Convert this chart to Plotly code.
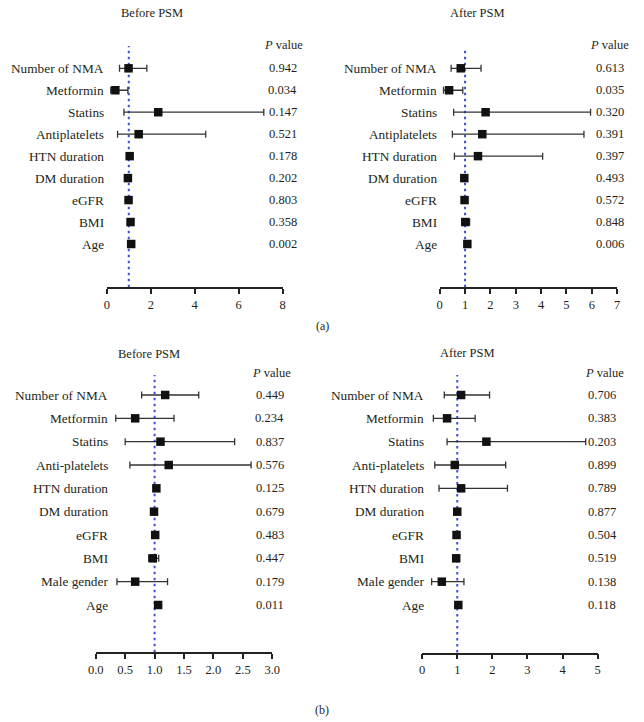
import plotly.graph_objects as go

# ---------------- data ----------------
labels_a = ["Number of NMA", "Metformin", "Statins", "Antiplatelets", "HTN duration",
            "DM duration", "eGFR", "BMI", "Age"]
labels_b = ["Number of NMA", "Metformin", "Statins", "Anti-platelets", "HTN duration",
            "DM duration", "eGFR", "BMI", "Male gender", "Age"]

a_before_or = [0.99, 0.39, 2.34, 1.45, 1.04, 0.96, 0.99, 1.08, 1.11]
a_before_lo = [0.58, 0.18, 0.78, 0.49, 0.98, 0.93, 0.95, 1.00, 1.05]
a_before_hi = [1.82, 0.96, 7.14, 4.50, 1.10, 1.00, 1.04, 1.17, 1.18]
a_before_p = ["0.942", "0.034", "0.147", "0.521", "0.178", "0.202", "0.803", "0.358", "0.002"]

a_after_or = [0.83, 0.37, 1.81, 1.68, 1.51, 0.97, 0.98, 1.01, 1.09]
a_after_lo = [0.45, 0.15, 0.55, 0.50, 0.58, 0.94, 0.93, 0.88, 1.03]
a_after_hi = [1.63, 0.91, 5.95, 5.69, 4.06, 1.02, 1.04, 1.18, 1.15]
a_after_p = ["0.613", "0.035", "0.320", "0.391", "0.397", "0.493", "0.572", "0.848", "0.006"]

b_before_or = [1.18, 0.67, 1.10, 1.24, 1.03, 0.99, 1.01, 0.97, 0.67, 1.06]
b_before_lo = [0.78, 0.34, 0.50, 0.58, 0.99, 0.97, 0.98, 0.90, 0.36, 1.02]
b_before_hi = [1.75, 1.33, 2.36, 2.64, 1.07, 1.02, 1.04, 1.07, 1.22, 1.10]
b_before_p = ["0.449", "0.234", "0.837", "0.576", "0.125", "0.679", "0.483", "0.447", "0.179", "0.011"]

b_after_or = [1.11, 0.71, 1.83, 0.93, 1.11, 1.00, 0.98, 0.97, 0.56, 1.03]
b_after_lo = [0.63, 0.32, 0.71, 0.36, 0.48, 0.96, 0.94, 0.90, 0.27, 0.98]
b_after_hi = [1.92, 1.51, 4.66, 2.38, 2.43, 1.04, 1.03, 1.05, 1.19, 1.08]
b_after_p = ["0.706", "0.383", "0.203", "0.899", "0.789", "0.877", "0.504", "0.519", "0.138", "0.118"]

x_ticks_a_before = [0, 2, 4, 6, 8]
x_ticks_a_after = [0, 1, 2, 3, 4, 5, 6, 7]
x_ticks_b_before = [0.0, 0.5, 1.0, 1.5, 2.0, 2.5, 3.0]
x_ticks_b_after = [0, 1, 2, 3, 4, 5]

# ---------------- layout geometry (pixels) ----------------
W, H = 644, 722
FONT = "Liberation Serif, Times New Roman, serif"
TXT = "#231f20"

panels = [
    dict(title="Before PSM", labels=labels_a, orv=a_before_or, lo=a_before_lo, hi=a_before_hi,
         p=a_before_p, ticks=x_ticks_a_before, ticktext=[str(t) for t in x_ticks_a_before],
         x0=101.3, x1=281.7, xr=[0, 8], top=46, bottom=287.3, row0=68.3, rowN=244,
         title_x=148, title_y=13, lab_x=100, p_x=281.7, ph_x=282.7, ph_y=45),
    dict(title="After PSM", labels=labels_a, orv=a_after_or, lo=a_after_lo, hi=a_after_hi,
         p=a_after_p, ticks=x_ticks_a_after, ticktext=[str(t) for t in x_ticks_a_after],
         x0=442.7, x1=624.7, xr=[0, 7], top=48, bottom=287.3, row0=68.3, rowN=244,
         title_x=481, title_y=13, lab_x=442, p_x=617, ph_x=617, ph_y=45),
    dict(title="Before PSM", labels=labels_b, orv=b_before_or, lo=b_before_lo, hi=b_before_hi,
         p=b_before_p, ticks=x_ticks_b_before, ticktext=["%.1f" % t for t in x_ticks_b_before],
         x0=90, x1=271, xr=[0, 3], top=375, bottom=652.3, row0=395, rowN=605,
         title_x=145, title_y=354, lab_x=105, p_x=268.3, ph_x=270, ph_y=373.3),
    dict(title="After PSM", labels=labels_b, orv=b_after_or, lo=b_after_lo, hi=b_after_hi,
         p=b_after_p, ticks=x_ticks_b_after, ticktext=[str(t) for t in x_ticks_b_after],
         x0=424.7, x1=604.7, xr=[0, 5], top=375, bottom=652.5, row0=395, rowN=605,
         title_x=471, title_y=353, lab_x=428.7, p_x=609.3, ph_x=612, ph_y=373.3),
]

fig = go.Figure()
annotations = []
shapes = []
layout = {}

for i, pn in enumerate(panels):
    k = "" if i == 0 else str(i + 1)
    n = len(pn["labels"])
    yvals = list(range(n, 0, -1))
    step = (pn["rowN"] - pn["row0"]) / (n - 1)
    y_top = n + (pn["row0"] - pn["top"]) / step
    y_bot = 1 - (pn["bottom"] - pn["rowN"]) / step

    layout["xaxis" + k] = dict(
        domain=[pn["x0"] / W, pn["x1"] / W], range=pn["xr"], anchor="y" + k,
        showline=True, linecolor="#222", linewidth=1.5, ticks="outside", ticklen=5,
        tickwidth=1.5, tickcolor="#222", showgrid=False, zeroline=False,
        tickvals=pn["ticks"], ticktext=pn["ticktext"],
        tickfont=dict(family=FONT, size=12.5, color=TXT), fixedrange=True)
    layout["yaxis" + k] = dict(
        domain=[1 - pn["bottom"] / H, 1 - pn["top"] / H], range=[y_bot, y_top],
        anchor="x" + k, visible=False, fixedrange=True)

    # reference line at 1
    shapes.append(dict(type="line", xref="x" + k, yref="y" + k + " domain",
                       x0=1, x1=1, y0=0, y1=1,
                       line=dict(color="#3f4fd6", width=2, dash="2.5px,3.5px"), layer="below"))

    plus = [h - o for h, o in zip(pn["hi"], pn["orv"])]
    minus = [o - l for o, l in zip(pn["orv"], pn["lo"])]
    fig.add_trace(go.Scatter(
        x=pn["orv"], y=yvals, mode="markers", xaxis="x" + k, yaxis="y" + k,
        marker=dict(symbol="square", size=8.5, color="#111"),
        error_x=dict(type="data", symmetric=False, array=plus, arrayminus=minus,
                     color="#333", thickness=1.3, width=3.5),
        showlegend=False, cliponaxis=False))

    for lab, yv, pv in zip(pn["labels"], yvals, pn["p"]):
        annotations.append(dict(text=lab, x=pn["lab_x"] / W, xref="paper", y=yv,
                                yref="y" + k, xanchor="right", yanchor="middle",
                                showarrow=False, font=dict(family=FONT, size=13.3, color=TXT)))
        annotations.append(dict(text=pv, x=pn["p_x"] / W, xref="paper", y=yv,
                                yref="y" + k, xanchor="center", yanchor="middle",
                                showarrow=False, font=dict(family=FONT, size=12.5, color=TXT)))
    annotations.append(dict(text="<i>P</i> value", x=pn["ph_x"] / W, xref="paper",
                            y=1 - pn["ph_y"] / H, yref="paper", xanchor="center",
                            yanchor="middle", showarrow=False,
                            font=dict(family=FONT, size=12.5, color=TXT)))
    annotations.append(dict(text=pn["title"], x=pn["title_x"] / W, xref="paper",
                            y=1 - pn["title_y"] / H, yref="paper", xanchor="center",
                            yanchor="middle", showarrow=False,
                            font=dict(family=FONT, size=12.5, color=TXT)))

for cap, cy in [("(a)", 326), ("(b)", 710)]:
    annotations.append(dict(text=cap, x=322 / W, xref="paper", y=1 - cy / H, yref="paper",
                            xanchor="center", yanchor="middle", showarrow=False,
                            font=dict(family=FONT, size=12, color=TXT)))

fig.update_layout(
    width=W, height=H, margin=dict(l=0, r=0, t=0, b=0),
    paper_bgcolor="white", plot_bgcolor="white",
    annotations=annotations, shapes=shapes, **layout)

fig.write_html("out.html", config={"displayModeBar": False},
               post_script="document.body.style.margin='0';document.body.style.overflow='hidden';")
